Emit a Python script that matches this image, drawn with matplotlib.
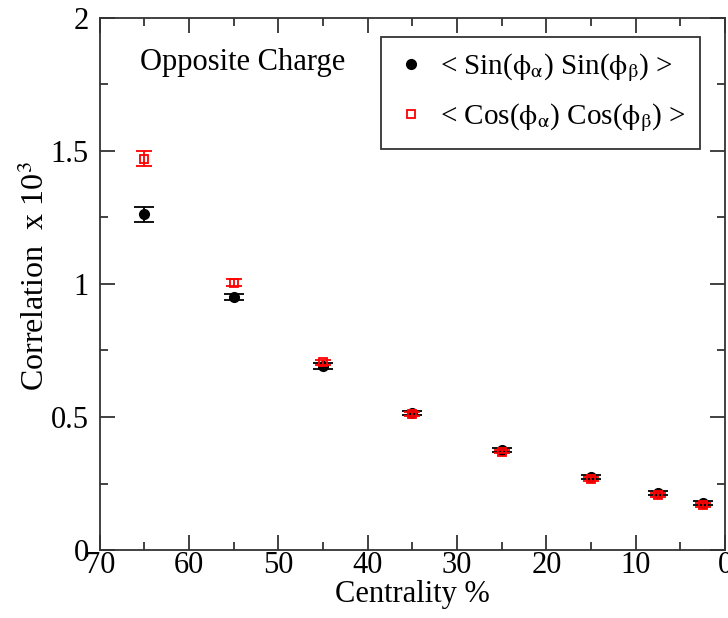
import matplotlib.pyplot as plt
from matplotlib.ticker import MultipleLocator
from matplotlib.lines import Line2D

# centrality bin centres (%)
centrality = [65, 55, 45, 35, 25, 15, 7.5, 2.5]

# < Sin(phi_a) Sin(phi_b) > x 10^3
sin_corr = [1.262, 0.950, 0.692, 0.515, 0.375, 0.274, 0.214, 0.177]
sin_err = [0.028, 0.012, 0.010, 0.008, 0.007, 0.007, 0.007, 0.007]

# < Cos(phi_a) Cos(phi_b) > x 10^3
cos_corr = [1.470, 1.005, 0.705, 0.512, 0.370, 0.268, 0.207, 0.168]
cos_err = [0.028, 0.012, 0.010, 0.008, 0.007, 0.007, 0.007, 0.007]

sin_label = r'< Sin($\mathrm{\phi_{\alpha}}$) Sin($\mathrm{\phi_{\beta}}$) >'
cos_label = r'< Cos($\mathrm{\phi_{\alpha}}$) Cos($\mathrm{\phi_{\beta}}$) >'

plt.rcParams['font.family'] = ['Liberation Serif', 'DejaVu Serif']
plt.rcParams['mathtext.fontset'] = 'stix'

fig = plt.figure(figsize=(7.28, 6.18), dpi=100)
ax = fig.add_axes([0.137, 0.110, 0.859, 0.861])

ax.errorbar(centrality, sin_corr, yerr=sin_err, fmt='o', color='black',
            ms=7, capsize=7, elinewidth=1.3, capthick=1.3, zorder=3)
ax.errorbar(centrality, cos_corr, yerr=cos_err, fmt='s', color='red',
            mfc='none', mec='red', mew=1.3, ms=6, capsize=6,
            elinewidth=1.3, capthick=1.3, zorder=4)

ax.set_xlim(70, 0)
ax.set_ylim(0, 2)
ax.xaxis.set_major_locator(MultipleLocator(10))
ax.xaxis.set_minor_locator(MultipleLocator(5))
ax.yaxis.set_minor_locator(MultipleLocator(0.25))
ax.set_yticks([0, 0.5, 1, 1.5, 2])
ax.set_yticklabels(['0', '0.5', '1', '1.5', '2'])

ax.tick_params(which='both', direction='in', top=True, right=True,
               labelsize=22, width=1.3, color='#333333')
ax.tick_params(which='major', length=11)
ax.tick_params(which='minor', length=6)
ax.tick_params(axis='x', pad=1)
ax.tick_params(axis='y', pad=8)
for s in ax.spines.values():
    s.set_linewidth(1.3)
    s.set_color('#333333')

ax.set_xlabel('Centrality %', fontsize=22, labelpad=0)
ax.set_ylabel(r'Correlation  x 10$^3$', fontsize=23)
ax.yaxis.set_label_coords(-0.078, 0.515)

ax.text(0.064, 0.917, 'Opposite Charge', transform=ax.transAxes,
        fontsize=22, va='center', ha='left')

handles = [
    Line2D([], [], ls='', marker='o', color='black', ms=7),
    Line2D([], [], ls='', marker='s', mfc='none', mec='red', mew=1.3, ms=6),
]
leg = ax.legend(handles, [sin_label, cos_label], loc='upper right',
                bbox_to_anchor=(0.96, 0.965), fontsize=21,
                frameon=True, fancybox=False, edgecolor='black',
                handlelength=1.0, handletextpad=0.5, borderpad=0.5,
                labelspacing=0.6, borderaxespad=0)
leg.get_frame().set_linewidth(1.3)

plt.savefig('out.png', dpi=100)
